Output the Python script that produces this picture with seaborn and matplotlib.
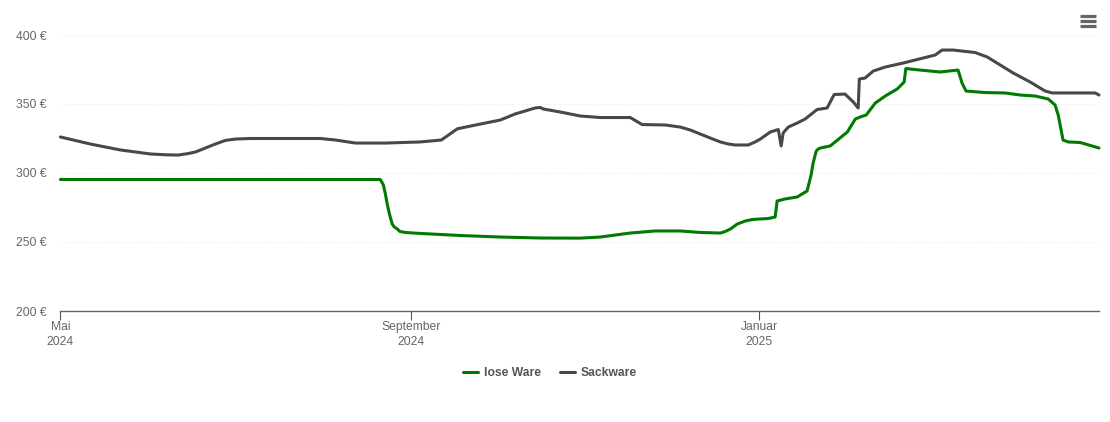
import pandas as pd
import matplotlib
matplotlib.use("Agg")
import matplotlib.pyplot as plt
from matplotlib.lines import Line2D
import seaborn as sns

# days since 1 May 2024, prices in euro
sack_days = [0, 10.5, 21, 31.5, 36.8, 41.3, 44.8, 47.3, 50.8, 54.3, 57.8, 61.3, 66.6, 91.1, 96.4, 103.4, 113.9,
             126.1, 133.5, 139.1, 143.7, 154.2, 159.4, 166.4, 168.2, 169.2, 175.2, 182.2, 189.2, 199.7, 203.9,
             212, 217.2, 220.7, 224.2, 227.7, 231.3, 234.1, 236.5, 241.1, 243.5, 245.3, 248.8, 251.6, 252.6,
             253.3, 255.1, 258.2, 261, 265.2, 268.7, 271.2, 275, 277.9, 279.6, 280, 282, 284.9, 289.1, 295.4,
             303.1, 306.6, 309, 312.9, 320.6, 324.8, 333.9, 339.9, 345.1, 347.6, 362.7, 364]
sack_price = [326.1, 321, 316.7, 313.8, 313.2, 313, 314.1, 315.2, 318.1, 321, 323.6, 324.6, 325, 325, 323.9, 321.7, 321.7,
              322.5, 323.9, 332, 334, 338.4, 342.8, 347.1, 347.5, 346.4, 344.2, 341.3, 340.2, 340.2, 335.1,
              334.8, 333.3, 331.2, 328.3, 325.4, 322.5, 321, 320.3, 320.3, 322.5, 324.6, 329.7, 331.5, 319.6,
              329, 333.3, 336.2, 339.1, 346, 347.1, 356.9, 357.2, 351.4, 347.1, 368.1, 368.8, 373.9, 376.8, 379.7,
              383.7, 385.5, 389.1, 389.1, 387.3, 384.1, 372.5, 365.9, 359.4, 358, 358, 356.5]

lose_days = [0, 112.1, 113.2, 113.9, 114.6, 115.4, 116.3, 117, 118.1, 119, 120.9, 126.1, 140.2, 154.2, 168.2, 182.2,
             189.2, 199.7, 208.5, 217.2, 224.2, 231.3, 233, 234.8, 237.2, 240, 242.5, 245.3, 248, 250.5, 251.2,
             254, 258.2, 261.7, 263.1, 263.8, 264.9, 265.6, 266.3, 269.8, 275.8, 278.6, 280.3, 282.4, 285.6,
             289.1, 293.3, 295.7, 296.3, 301.3, 308.3, 314.6, 316, 317.4, 324.1, 331.1, 336.4, 341.6, 346.2,
             348.6, 349.7, 351.4, 353.2, 357.4, 364]
lose_price = [295.3, 295.3, 291.3, 284.8, 276.8, 269.6, 263, 260.9, 259.4, 257.6, 256.9, 256.2, 254.7, 253.6, 252.9, 252.8,
              253.6, 256.5, 258, 258, 256.9, 256.5, 257.6, 259.4, 263, 265.2, 266.3, 266.7, 267, 268.1, 279.7,
              281.2, 282.6, 287, 298.6, 307.2, 315.9, 317.4, 318.1, 319.6, 329.7, 339.1, 340.6, 342, 350.7,
              355.8, 360.9, 365.9, 375.7, 374.6, 373.2, 374.6, 365.2, 359.4, 358.3, 358, 356.5, 355.8, 353.6,
              349.3, 342, 323.9, 322.5, 322.1, 318.1]

month_ticks = [0, 123, 245]
month_labels = ["Mai\n2024", "September\n2024", "Januar\n2025"]
price_ticks = [200, 250, 300, 350, 400]

df = pd.concat([
    pd.DataFrame({"day": lose_days, "price": lose_price, "sorte": "lose Ware"}),
    pd.DataFrame({"day": sack_days, "price": sack_price, "sorte": "Sackware"}),
])

sns.set_theme(style="white")
plt.rcParams["font.family"] = ["Liberation Sans", "DejaVu Sans"]

fig = plt.figure(figsize=(11.10, 4.22), dpi=100)
ax = fig.add_axes([60.4 / 1110, 1 - 311 / 422, 1038.6 / 1110, 276 / 422])

sns.lineplot(data=df, x="day", y="price", hue="sorte", estimator=None, sort=False,
             palette={"lose Ware": "#007a00", "Sackware": "#484848"},
             linewidth=2.2, ax=ax, solid_joinstyle="round", clip_on=False)

ax.set_xlim(0, 364)
ax.set_ylim(200, 400)
ax.set_xlabel("")
ax.set_ylabel("")

ax.set_yticks(price_ticks)
ax.set_yticklabels([f"{p} €" for p in price_ticks])
ax.set_xticks(month_ticks)
ax.set_xticklabels(month_labels, linespacing=1.3)
ax.tick_params(axis="y", length=0, pad=10, labelsize=8.7, labelcolor="#666666")
ax.tick_params(axis="x", bottom=True, length=6.5, width=0.8, color="#555555", pad=1,
               labelsize=8.7, labelcolor="#666666")

ax.grid(axis="y", color="#e8e8e8", linewidth=0.7, linestyle=(0, (1, 2)))
ax.set_axisbelow(True)
sns.despine(ax=ax, left=True)
ax.spines["bottom"].set_color("#666666")
ax.spines["bottom"].set_linewidth(1.0)

sns.move_legend(ax, "center", bbox_to_anchor=(550 / 1110, 1 - 373 / 422),
                bbox_transform=fig.transFigure, ncols=2, title=None, frameon=False,
                handlelength=1.25, handletextpad=0.45, columnspacing=1.6,
                prop={"size": 8.7, "weight": "bold"})
for t in ax.get_legend().get_texts():
    t.set_color("#555555")

# menu icon top right
for y in (16, 21, 26):
    fig.add_artist(Line2D([1080 / 1110, 1096 / 1110], [1 - y / 422, 1 - y / 422],
                          color="#666666", linewidth=2.3, solid_capstyle="butt"))

fig.savefig("out.png", dpi=100)
